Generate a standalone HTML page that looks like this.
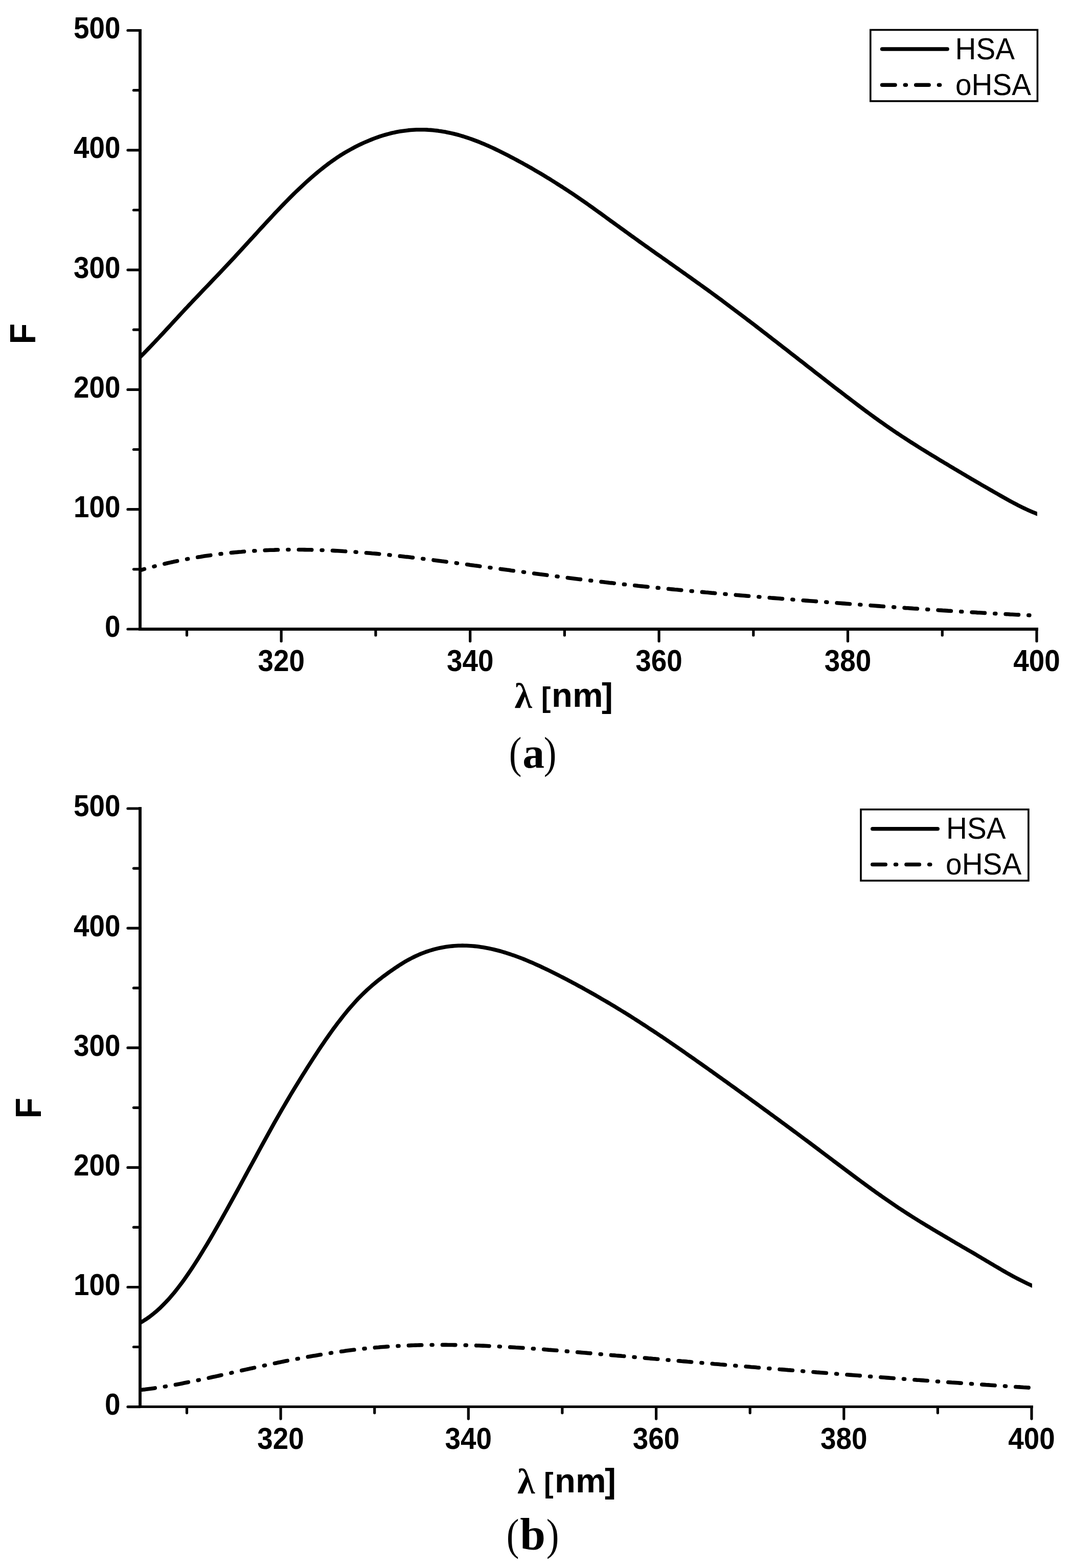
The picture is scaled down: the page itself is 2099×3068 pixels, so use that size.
<!DOCTYPE html>
<html><head><meta charset="utf-8"><title>Fluorescence spectra HSA / oHSA</title>
<style>html,body{margin:0;padding:0;background:#fff;}body{width:2099px;height:3068px;overflow:hidden;}svg{display:block;}.t{font-family:"Liberation Sans",Arial,sans-serif;font-weight:bold;fill:#000;}.r{font-family:"Liberation Sans",Arial,sans-serif;font-weight:normal;fill:#000;}.s{font-family:"Liberation Serif","Times New Roman",serif;fill:#000;}</style></head><body>
<svg width="2099" height="3068" viewBox="0 0 2099 3068">
<rect width="2099" height="3068" fill="#fff"/>
<defs>
<clipPath id="clipa"><rect x="274.0" y="47.0" width="1755.0" height="1184.0"/></clipPath>
<clipPath id="clipb"><rect x="274.0" y="1569.0" width="1745.0" height="1183.6"/></clipPath>
</defs>
<g clip-path="url(#clipa)" fill="none" stroke="#000" stroke-width="7.6" stroke-linejoin="round">
<path d="M270.0,702.6 L274.0,698.7 L278.0,694.7 L282.0,690.7 L286.0,686.6 L290.0,682.5 L294.0,678.4 L298.0,674.2 L302.0,670.0 L306.0,665.7 L310.0,661.5 L314.0,657.2 L318.1,652.9 L322.1,648.5 L326.1,644.2 L330.1,639.9 L334.1,635.5 L338.1,631.2 L342.1,626.8 L346.1,622.5 L350.1,618.2 L354.1,613.8 L358.1,609.5 L362.1,605.2 L366.1,601.0 L370.1,596.7 L374.1,592.5 L378.1,588.2 L382.1,584.0 L386.1,579.8 L390.1,575.6 L394.1,571.4 L398.1,567.2 L402.1,563.0 L406.2,558.8 L410.2,554.6 L414.2,550.4 L418.2,546.2 L422.2,542.0 L426.2,537.8 L430.2,533.6 L434.2,529.4 L438.2,525.1 L442.2,520.9 L446.2,516.6 L450.2,512.4 L454.2,508.1 L458.2,503.8 L462.2,499.4 L466.2,495.1 L470.2,490.7 L474.2,486.4 L478.2,482.0 L482.2,477.6 L486.2,473.2 L490.2,468.9 L494.3,464.5 L498.3,460.1 L502.3,455.7 L506.3,451.3 L510.3,446.9 L514.3,442.6 L518.3,438.2 L522.3,433.9 L526.3,429.6 L530.3,425.3 L534.3,421.0 L538.3,416.7 L542.3,412.5 L546.3,408.3 L550.3,404.1 L554.3,400.0 L558.3,395.9 L562.3,391.8 L566.3,387.8 L570.3,383.8 L574.3,379.8 L578.3,375.9 L582.4,372.0 L586.4,368.2 L590.4,364.4 L594.4,360.7 L598.4,357.0 L602.4,353.4 L606.4,349.9 L610.4,346.3 L614.4,342.9 L618.4,339.5 L622.4,336.1 L626.4,332.9 L630.4,329.7 L634.4,326.5 L638.4,323.4 L642.4,320.4 L646.4,317.5 L650.4,314.6 L654.4,311.8 L658.4,309.0 L662.4,306.4 L666.4,303.8 L670.5,301.3 L674.5,298.8 L678.5,296.5 L682.5,294.2 L686.5,292.0 L690.5,289.8 L694.5,287.7 L698.5,285.7 L702.5,283.7 L706.5,281.8 L710.5,279.9 L714.5,278.1 L718.5,276.4 L722.5,274.7 L726.5,273.1 L730.5,271.5 L734.5,270.0 L738.5,268.6 L742.5,267.2 L746.5,265.9 L750.5,264.7 L754.5,263.5 L758.6,262.4 L762.6,261.3 L766.6,260.3 L770.6,259.4 L774.6,258.6 L778.6,257.8 L782.6,257.1 L786.6,256.4 L790.6,255.9 L794.6,255.4 L798.6,254.9 L802.6,254.5 L806.6,254.2 L810.6,254.0 L814.6,253.8 L818.6,253.7 L822.6,253.7 L826.6,253.7 L830.6,253.8 L834.6,253.9 L838.6,254.2 L842.6,254.4 L846.7,254.8 L850.7,255.2 L854.7,255.6 L858.7,256.2 L862.7,256.7 L866.7,257.4 L870.7,258.1 L874.7,258.9 L878.7,259.7 L882.7,260.6 L886.7,261.5 L890.7,262.5 L894.7,263.5 L898.7,264.7 L902.7,265.8 L906.7,267.0 L910.7,268.3 L914.7,269.6 L918.7,271.0 L922.7,272.4 L926.7,273.9 L930.7,275.4 L934.8,276.9 L938.8,278.5 L942.8,280.2 L946.8,281.8 L950.8,283.6 L954.8,285.3 L958.8,287.1 L962.8,288.9 L966.8,290.8 L970.8,292.7 L974.8,294.6 L978.8,296.6 L982.8,298.6 L986.8,300.6 L990.8,302.6 L994.8,304.7 L998.8,306.8 L1002.8,308.9 L1006.8,311.0 L1010.8,313.2 L1014.8,315.3 L1018.8,317.5 L1022.9,319.7 L1026.9,322.0 L1030.9,324.2 L1034.9,326.5 L1038.9,328.7 L1042.9,331.0 L1046.9,333.4 L1050.9,335.7 L1054.9,338.1 L1058.9,340.4 L1062.9,342.8 L1066.9,345.3 L1070.9,347.7 L1074.9,350.1 L1078.9,352.6 L1082.9,355.1 L1086.9,357.6 L1090.9,360.2 L1094.9,362.7 L1098.9,365.3 L1102.9,367.9 L1106.9,370.5 L1111.0,373.1 L1115.0,375.8 L1119.0,378.4 L1123.0,381.1 L1127.0,383.8 L1131.0,386.6 L1135.0,389.3 L1139.0,392.1 L1143.0,394.9 L1147.0,397.7 L1151.0,400.5 L1155.0,403.4 L1159.0,406.2 L1163.0,409.1 L1167.0,412.0 L1171.0,414.8 L1175.0,417.7 L1179.0,420.6 L1183.0,423.5 L1187.0,426.5 L1191.0,429.4 L1195.0,432.3 L1199.0,435.2 L1203.1,438.1 L1207.1,441.0 L1211.1,443.9 L1215.1,446.8 L1219.1,449.7 L1223.1,452.6 L1227.1,455.5 L1231.1,458.4 L1235.1,461.3 L1239.1,464.2 L1243.1,467.0 L1247.1,469.9 L1251.1,472.8 L1255.1,475.6 L1259.1,478.5 L1263.1,481.4 L1267.1,484.2 L1271.1,487.0 L1275.1,489.9 L1279.1,492.7 L1283.1,495.6 L1287.1,498.4 L1291.2,501.2 L1295.2,504.0 L1299.2,506.9 L1303.2,509.7 L1307.2,512.5 L1311.2,515.4 L1315.2,518.2 L1319.2,521.0 L1323.2,523.8 L1327.2,526.7 L1331.2,529.5 L1335.2,532.3 L1339.2,535.2 L1343.2,538.0 L1347.2,540.9 L1351.2,543.7 L1355.2,546.6 L1359.2,549.4 L1363.2,552.3 L1367.2,555.2 L1371.2,558.0 L1375.2,560.9 L1379.3,563.8 L1383.3,566.7 L1387.3,569.6 L1391.3,572.5 L1395.3,575.5 L1399.3,578.4 L1403.3,581.3 L1407.3,584.3 L1411.3,587.2 L1415.3,590.2 L1419.3,593.2 L1423.3,596.2 L1427.3,599.2 L1431.3,602.2 L1435.3,605.2 L1439.3,608.2 L1443.3,611.2 L1447.3,614.2 L1451.3,617.3 L1455.3,620.3 L1459.3,623.3 L1463.3,626.4 L1467.4,629.4 L1471.4,632.5 L1475.4,635.6 L1479.4,638.6 L1483.4,641.7 L1487.4,644.8 L1491.4,647.9 L1495.4,651.0 L1499.4,654.1 L1503.4,657.2 L1507.4,660.3 L1511.4,663.4 L1515.4,666.5 L1519.4,669.6 L1523.4,672.7 L1527.4,675.8 L1531.4,678.9 L1535.4,682.0 L1539.4,685.1 L1543.4,688.3 L1547.4,691.4 L1551.4,694.5 L1555.5,697.6 L1559.5,700.8 L1563.5,703.9 L1567.5,707.0 L1571.5,710.1 L1575.5,713.3 L1579.5,716.4 L1583.5,719.5 L1587.5,722.6 L1591.5,725.8 L1595.5,728.9 L1599.5,732.0 L1603.5,735.1 L1607.5,738.2 L1611.5,741.3 L1615.5,744.5 L1619.5,747.6 L1623.5,750.7 L1627.5,753.8 L1631.5,756.9 L1635.5,760.0 L1639.5,763.1 L1643.6,766.1 L1647.6,769.2 L1651.6,772.3 L1655.6,775.4 L1659.6,778.4 L1663.6,781.5 L1667.6,784.5 L1671.6,787.6 L1675.6,790.6 L1679.6,793.6 L1683.6,796.6 L1687.6,799.6 L1691.6,802.6 L1695.6,805.6 L1699.6,808.5 L1703.6,811.5 L1707.6,814.4 L1711.6,817.3 L1715.6,820.2 L1719.6,823.1 L1723.6,825.9 L1727.6,828.7 L1731.7,831.6 L1735.7,834.3 L1739.7,837.1 L1743.7,839.9 L1747.7,842.6 L1751.7,845.3 L1755.7,848.0 L1759.7,850.6 L1763.7,853.3 L1767.7,855.9 L1771.7,858.5 L1775.7,861.1 L1779.7,863.7 L1783.7,866.3 L1787.7,868.8 L1791.7,871.3 L1795.7,873.9 L1799.7,876.4 L1803.7,878.9 L1807.7,881.3 L1811.7,883.8 L1815.7,886.3 L1819.8,888.7 L1823.8,891.2 L1827.8,893.6 L1831.8,896.0 L1835.8,898.5 L1839.8,900.9 L1843.8,903.3 L1847.8,905.7 L1851.8,908.1 L1855.8,910.5 L1859.8,912.9 L1863.8,915.3 L1867.8,917.7 L1871.8,920.1 L1875.8,922.5 L1879.8,924.8 L1883.8,927.2 L1887.8,929.6 L1891.8,932.0 L1895.8,934.3 L1899.8,936.7 L1903.8,939.0 L1907.9,941.4 L1911.9,943.7 L1915.9,946.0 L1919.9,948.4 L1923.9,950.7 L1927.9,953.0 L1931.9,955.3 L1935.9,957.6 L1939.9,959.9 L1943.9,962.2 L1947.9,964.5 L1951.9,966.8 L1955.9,969.1 L1959.9,971.4 L1963.9,973.6 L1967.9,975.9 L1971.9,978.1 L1975.9,980.3 L1979.9,982.5 L1983.9,984.6 L1987.9,986.7 L1991.9,988.8 L1996.0,990.8 L2000.0,992.8 L2004.0,994.7 L2008.0,996.6 L2012.0,998.5 L2016.0,1000.2 L2020.0,1001.9 L2024.0,1003.6 L2028.0,1005.2 L2032.0,1006.7 L2036.0,1008.1 L2040.0,1009.5"/>
<path d="M268.0,1117.6 L272.0,1116.4 L276.0,1115.3 L280.0,1114.1 L284.0,1113.0 L288.0,1111.9 L292.0,1110.8 L296.0,1109.7 L300.0,1108.6 L304.0,1107.6 L308.0,1106.6 L312.0,1105.6 L316.0,1104.6 L320.0,1103.6 L324.0,1102.7 L328.0,1101.8 L332.0,1100.9 L336.0,1100.0 L340.0,1099.1 L344.0,1098.3 L348.0,1097.4 L352.0,1096.6 L356.0,1095.8 L360.0,1095.0 L364.0,1094.2 L368.0,1093.5 L372.0,1092.8 L376.0,1092.0 L380.0,1091.3 L384.0,1090.7 L388.0,1090.0 L392.0,1089.4 L396.0,1088.7 L400.0,1088.1 L404.0,1087.5 L408.0,1086.9 L412.0,1086.4 L416.0,1085.8 L420.0,1085.3 L424.0,1084.7 L428.0,1084.2 L432.0,1083.7 L436.0,1083.3 L440.0,1082.8 L444.0,1082.4 L448.0,1081.9 L452.0,1081.5 L456.0,1081.1 L460.0,1080.7 L464.0,1080.4 L468.0,1080.0 L472.0,1079.7 L476.0,1079.3 L480.0,1079.0 L484.0,1078.7 L488.0,1078.4 L492.0,1078.2 L496.0,1077.9 L500.0,1077.7 L504.0,1077.4 L508.0,1077.2 L512.0,1077.0 L516.0,1076.8 L520.0,1076.6 L524.0,1076.5 L528.0,1076.3 L532.0,1076.2 L536.0,1076.1 L540.0,1075.9 L544.0,1075.8 L548.0,1075.8 L552.0,1075.7 L556.0,1075.6 L560.0,1075.6 L564.0,1075.5 L568.0,1075.5 L572.0,1075.5 L576.0,1075.5 L580.0,1075.5 L584.0,1075.5 L588.0,1075.5 L592.0,1075.5 L596.0,1075.6 L600.0,1075.7 L604.0,1075.7 L608.0,1075.8 L612.0,1075.9 L616.0,1076.0 L620.0,1076.1 L624.0,1076.2 L628.0,1076.4 L632.0,1076.5 L636.0,1076.7 L640.0,1076.8 L644.0,1077.0 L648.0,1077.2 L652.0,1077.4 L656.0,1077.6 L660.0,1077.8 L664.0,1078.0 L668.0,1078.2 L672.0,1078.5 L676.0,1078.7 L680.0,1079.0 L684.0,1079.2 L688.0,1079.5 L692.0,1079.8 L696.0,1080.1 L700.0,1080.4 L704.0,1080.7 L708.0,1081.0 L712.0,1081.3 L716.0,1081.7 L720.0,1082.0 L724.0,1082.3 L728.0,1082.7 L732.0,1083.0 L736.0,1083.4 L740.0,1083.8 L744.0,1084.2 L748.0,1084.5 L752.0,1084.9 L756.0,1085.3 L760.0,1085.7 L764.0,1086.2 L768.0,1086.6 L772.0,1087.0 L776.0,1087.4 L780.0,1087.9 L784.0,1088.3 L788.0,1088.7 L792.0,1089.2 L796.0,1089.6 L800.0,1090.1 L804.0,1090.6 L808.0,1091.0 L812.0,1091.5 L816.0,1092.0 L820.0,1092.5 L824.0,1092.9 L828.0,1093.4 L832.0,1093.9 L836.0,1094.4 L840.0,1094.9 L844.0,1095.4 L848.0,1095.9 L852.0,1096.4 L856.0,1096.9 L860.0,1097.4 L864.0,1098.0 L868.0,1098.5 L872.0,1099.0 L876.0,1099.5 L880.0,1100.1 L884.0,1100.6 L888.0,1101.1 L892.0,1101.6 L896.0,1102.2 L900.0,1102.7 L904.0,1103.2 L908.0,1103.8 L912.0,1104.3 L916.0,1104.8 L920.0,1105.4 L924.0,1105.9 L928.0,1106.5 L932.0,1107.0 L936.0,1107.5 L940.0,1108.1 L944.0,1108.6 L948.0,1109.2 L952.0,1109.7 L956.0,1110.2 L960.0,1110.8 L964.0,1111.3 L968.0,1111.9 L972.0,1112.4 L976.0,1112.9 L980.0,1113.5 L984.0,1114.0 L988.0,1114.5 L992.0,1115.1 L996.0,1115.6 L1000.0,1116.2 L1004.0,1116.7 L1008.0,1117.2 L1012.0,1117.8 L1016.0,1118.3 L1020.0,1118.8 L1024.0,1119.3 L1028.0,1119.9 L1032.0,1120.4 L1036.0,1120.9 L1040.0,1121.5 L1044.0,1122.0 L1048.0,1122.5 L1052.0,1123.0 L1056.0,1123.6 L1060.0,1124.1 L1064.0,1124.6 L1068.0,1125.1 L1072.0,1125.6 L1076.0,1126.1 L1080.0,1126.7 L1084.0,1127.2 L1088.0,1127.7 L1092.0,1128.2 L1096.0,1128.7 L1100.0,1129.2 L1104.0,1129.7 L1108.0,1130.2 L1112.0,1130.7 L1116.0,1131.2 L1120.0,1131.7 L1124.0,1132.2 L1128.0,1132.7 L1132.0,1133.2 L1136.0,1133.7 L1140.0,1134.1 L1144.0,1134.6 L1148.0,1135.1 L1152.0,1135.6 L1156.0,1136.0 L1160.0,1136.5 L1164.0,1137.0 L1168.0,1137.5 L1172.0,1137.9 L1176.0,1138.4 L1180.0,1138.8 L1184.0,1139.3 L1188.0,1139.7 L1192.0,1140.2 L1196.0,1140.6 L1200.0,1141.1 L1204.0,1141.5 L1208.0,1142.0 L1212.0,1142.4 L1216.0,1142.9 L1220.0,1143.3 L1224.0,1143.7 L1228.0,1144.1 L1232.0,1144.6 L1236.0,1145.0 L1240.0,1145.4 L1244.0,1145.8 L1248.0,1146.3 L1252.0,1146.7 L1256.0,1147.1 L1260.0,1147.5 L1264.0,1147.9 L1268.0,1148.3 L1272.0,1148.7 L1276.0,1149.1 L1280.0,1149.5 L1284.0,1149.9 L1288.0,1150.3 L1292.0,1150.7 L1296.0,1151.1 L1300.0,1151.5 L1304.0,1151.9 L1308.0,1152.3 L1312.0,1152.7 L1316.0,1153.1 L1320.0,1153.5 L1324.0,1153.8 L1328.0,1154.2 L1332.0,1154.6 L1336.0,1155.0 L1340.0,1155.3 L1344.0,1155.7 L1348.0,1156.1 L1352.0,1156.5 L1356.0,1156.8 L1360.0,1157.2 L1364.0,1157.5 L1368.0,1157.9 L1372.0,1158.3 L1376.0,1158.6 L1380.0,1159.0 L1384.0,1159.3 L1388.0,1159.7 L1392.0,1160.1 L1396.0,1160.4 L1400.0,1160.8 L1404.0,1161.1 L1408.0,1161.5 L1412.0,1161.8 L1416.0,1162.1 L1420.0,1162.5 L1424.0,1162.8 L1428.0,1163.2 L1432.0,1163.5 L1436.0,1163.9 L1440.0,1164.2 L1444.0,1164.5 L1448.0,1164.9 L1452.0,1165.2 L1456.0,1165.5 L1460.0,1165.9 L1464.0,1166.2 L1468.0,1166.5 L1472.0,1166.9 L1476.0,1167.2 L1480.0,1167.5 L1484.0,1167.8 L1488.0,1168.2 L1492.0,1168.5 L1496.0,1168.8 L1500.0,1169.1 L1504.0,1169.4 L1508.0,1169.8 L1512.0,1170.1 L1516.0,1170.4 L1520.0,1170.7 L1524.0,1171.0 L1528.0,1171.4 L1532.0,1171.7 L1536.0,1172.0 L1540.0,1172.3 L1544.0,1172.6 L1548.0,1172.9 L1552.0,1173.2 L1556.0,1173.5 L1560.0,1173.9 L1564.0,1174.2 L1568.0,1174.5 L1572.0,1174.8 L1576.0,1175.1 L1580.0,1175.4 L1584.0,1175.7 L1588.0,1176.0 L1592.0,1176.3 L1596.0,1176.6 L1600.0,1176.9 L1604.0,1177.2 L1608.0,1177.5 L1612.0,1177.8 L1616.0,1178.1 L1620.0,1178.5 L1624.0,1178.8 L1628.0,1179.1 L1632.0,1179.4 L1636.0,1179.7 L1640.0,1180.0 L1644.0,1180.3 L1648.0,1180.6 L1652.0,1180.9 L1656.0,1181.2 L1660.0,1181.5 L1664.0,1181.8 L1668.0,1182.1 L1672.0,1182.4 L1676.0,1182.7 L1680.0,1182.9 L1684.0,1183.2 L1688.0,1183.5 L1692.0,1183.8 L1696.0,1184.1 L1700.0,1184.4 L1704.0,1184.7 L1708.0,1185.0 L1712.0,1185.3 L1716.0,1185.6 L1720.0,1185.9 L1724.0,1186.2 L1728.0,1186.5 L1732.0,1186.7 L1736.0,1187.0 L1740.0,1187.3 L1744.0,1187.6 L1748.0,1187.9 L1752.0,1188.2 L1756.0,1188.5 L1760.0,1188.7 L1764.0,1189.0 L1768.0,1189.3 L1772.0,1189.6 L1776.0,1189.8 L1780.0,1190.1 L1784.0,1190.4 L1788.0,1190.7 L1792.0,1190.9 L1796.0,1191.2 L1800.0,1191.5 L1804.0,1191.8 L1808.0,1192.0 L1812.0,1192.3 L1816.0,1192.6 L1820.0,1192.8 L1824.0,1193.1 L1828.0,1193.4 L1832.0,1193.6 L1836.0,1193.9 L1840.0,1194.1 L1844.0,1194.4 L1848.0,1194.6 L1852.0,1194.9 L1856.0,1195.2 L1860.0,1195.4 L1864.0,1195.7 L1868.0,1195.9 L1872.0,1196.2 L1876.0,1196.4 L1880.0,1196.7 L1884.0,1196.9 L1888.0,1197.1 L1892.0,1197.4 L1896.0,1197.6 L1900.0,1197.9 L1904.0,1198.1 L1908.0,1198.3 L1912.0,1198.6 L1916.0,1198.8 L1920.0,1199.0 L1924.0,1199.2 L1928.0,1199.5 L1932.0,1199.7 L1936.0,1199.9 L1940.0,1200.1 L1944.0,1200.4 L1948.0,1200.6 L1952.0,1200.8 L1956.0,1201.0 L1960.0,1201.2 L1964.0,1201.4 L1968.0,1201.6 L1972.0,1201.8 L1976.0,1202.1 L1980.0,1202.3 L1984.0,1202.5 L1988.0,1202.7 L1992.0,1202.9 L1996.0,1203.0 L2000.0,1203.2 L2004.0,1203.4 L2008.0,1203.6 L2012.0,1203.8 L2016.0,1204.0 L2020.0,1204.2 L2024.0,1204.4 L2028.0,1204.5 L2032.0,1204.7 L2036.0,1204.9 L2040.0,1205.1" stroke-dasharray="25.4 19.375 2 19.375" stroke-dashoffset="10.4" stroke-linecap="round"/>
</g>
<g stroke="#000" fill="none" stroke-linecap="square">
<path d="M274.0,57.0 V1234.1" stroke-width="5.9" stroke-linecap="butt"/>
<path d="M271.1,1231.0 H2031.0" stroke-width="6.2" stroke-linecap="butt"/>
</g>
<g stroke="#000" stroke-width="5.2" stroke-linecap="round">
<line x1="250.0" y1="1231.0" x2="274.0" y2="1231.0"/>
<line x1="261.5" y1="1113.8" x2="274.0" y2="1113.8"/>
<line x1="250.0" y1="996.7" x2="274.0" y2="996.7"/>
<line x1="261.5" y1="879.5" x2="274.0" y2="879.5"/>
<line x1="250.0" y1="762.4" x2="274.0" y2="762.4"/>
<line x1="261.5" y1="645.2" x2="274.0" y2="645.2"/>
<line x1="250.0" y1="528.1" x2="274.0" y2="528.1"/>
<line x1="261.5" y1="411.0" x2="274.0" y2="411.0"/>
<line x1="250.0" y1="293.8" x2="274.0" y2="293.8"/>
<line x1="261.5" y1="176.7" x2="274.0" y2="176.7"/>
<line x1="250.0" y1="59.5" x2="274.0" y2="59.5"/>
<line x1="365.5" y1="1231.0" x2="365.5" y2="1243.0"/>
<line x1="550.2" y1="1231.0" x2="550.2" y2="1254.5"/>
<line x1="734.9" y1="1231.0" x2="734.9" y2="1243.0"/>
<line x1="919.7" y1="1231.0" x2="919.7" y2="1254.5"/>
<line x1="1104.4" y1="1231.0" x2="1104.4" y2="1243.0"/>
<line x1="1289.1" y1="1231.0" x2="1289.1" y2="1254.5"/>
<line x1="1473.8" y1="1231.0" x2="1473.8" y2="1243.0"/>
<line x1="1658.5" y1="1231.0" x2="1658.5" y2="1254.5"/>
<line x1="1843.3" y1="1231.0" x2="1843.3" y2="1243.0"/>
<line x1="2028.0" y1="1231.0" x2="2028.0" y2="1254.5"/>
</g>
<text class="t" x="0.0" y="1246.5" font-size="59" text-anchor="end" transform="translate(235.5,0) scale(0.93,1)">0</text>
<text class="t" x="0.0" y="1012.2" font-size="59" text-anchor="end" transform="translate(235.5,0) scale(0.93,1)">100</text>
<text class="t" x="0.0" y="777.9" font-size="59" text-anchor="end" transform="translate(235.5,0) scale(0.93,1)">200</text>
<text class="t" x="0.0" y="543.6" font-size="59" text-anchor="end" transform="translate(235.5,0) scale(0.93,1)">300</text>
<text class="t" x="0.0" y="309.3" font-size="59" text-anchor="end" transform="translate(235.5,0) scale(0.93,1)">400</text>
<text class="t" x="0.0" y="75.0" font-size="59" text-anchor="end" transform="translate(235.5,0) scale(0.93,1)">500</text>
<text class="t" x="0" y="1313.0" font-size="59" text-anchor="middle" transform="translate(550.2,0) scale(0.93,1)">320</text>
<text class="t" x="0" y="1313.0" font-size="59" text-anchor="middle" transform="translate(919.7,0) scale(0.93,1)">340</text>
<text class="t" x="0" y="1313.0" font-size="59" text-anchor="middle" transform="translate(1289.1,0) scale(0.93,1)">360</text>
<text class="t" x="0" y="1313.0" font-size="59" text-anchor="middle" transform="translate(1658.5,0) scale(0.93,1)">380</text>
<text class="t" x="0" y="1313.0" font-size="59" text-anchor="middle" transform="translate(2028.0,0) scale(0.93,1)">400</text>
<g clip-path="url(#clipb)" fill="none" stroke="#000" stroke-width="7.6" stroke-linejoin="round">
<path d="M268.0,2591.4 L272.0,2589.4 L276.0,2587.2 L280.0,2584.9 L284.0,2582.3 L288.0,2579.7 L292.0,2576.8 L296.0,2573.8 L300.0,2570.6 L304.0,2567.3 L308.0,2563.8 L312.1,2560.2 L316.1,2556.3 L320.1,2552.3 L324.1,2548.2 L328.1,2543.9 L332.1,2539.4 L336.1,2534.8 L340.1,2530.1 L344.1,2525.1 L348.1,2520.0 L352.1,2514.8 L356.1,2509.4 L360.1,2503.9 L364.1,2498.3 L368.1,2492.5 L372.1,2486.6 L376.1,2480.6 L380.1,2474.5 L384.1,2468.3 L388.1,2461.9 L392.1,2455.5 L396.1,2449.0 L400.1,2442.4 L404.2,2435.7 L408.2,2429.0 L412.2,2422.2 L416.2,2415.3 L420.2,2408.4 L424.2,2401.4 L428.2,2394.4 L432.2,2387.3 L436.2,2380.2 L440.2,2373.0 L444.2,2365.9 L448.2,2358.7 L452.2,2351.4 L456.2,2344.2 L460.2,2336.9 L464.2,2329.6 L468.2,2322.2 L472.2,2314.9 L476.2,2307.5 L480.2,2300.2 L484.2,2292.8 L488.2,2285.4 L492.3,2278.0 L496.3,2270.6 L500.3,2263.3 L504.3,2255.9 L508.3,2248.5 L512.3,2241.2 L516.3,2233.9 L520.3,2226.6 L524.3,2219.3 L528.3,2212.1 L532.3,2204.9 L536.3,2197.7 L540.3,2190.6 L544.3,2183.6 L548.3,2176.6 L552.3,2169.7 L556.3,2162.8 L560.3,2156.0 L564.3,2149.2 L568.3,2142.4 L572.3,2135.8 L576.4,2129.1 L580.4,2122.5 L584.4,2116.0 L588.4,2109.5 L592.4,2103.1 L596.4,2096.7 L600.4,2090.3 L604.4,2084.0 L608.4,2077.7 L612.4,2071.5 L616.4,2065.4 L620.4,2059.2 L624.4,2053.2 L628.4,2047.2 L632.4,2041.3 L636.4,2035.4 L640.4,2029.7 L644.4,2024.0 L648.4,2018.4 L652.4,2012.8 L656.4,2007.4 L660.4,2002.0 L664.5,1996.8 L668.5,1991.6 L672.5,1986.5 L676.5,1981.6 L680.5,1976.7 L684.5,1972.0 L688.5,1967.4 L692.5,1962.9 L696.5,1958.5 L700.5,1954.2 L704.5,1950.1 L708.5,1946.1 L712.5,1942.2 L716.5,1938.4 L720.5,1934.8 L724.5,1931.2 L728.5,1927.7 L732.5,1924.3 L736.5,1921.0 L740.5,1917.8 L744.5,1914.7 L748.5,1911.6 L752.5,1908.6 L756.6,1905.6 L760.6,1902.7 L764.6,1899.9 L768.6,1897.1 L772.6,1894.3 L776.6,1891.7 L780.6,1889.0 L784.6,1886.5 L788.6,1884.0 L792.6,1881.6 L796.6,1879.3 L800.6,1877.1 L804.6,1875.0 L808.6,1873.0 L812.6,1871.0 L816.6,1869.2 L820.6,1867.4 L824.6,1865.8 L828.6,1864.2 L832.6,1862.7 L836.6,1861.3 L840.7,1860.0 L844.7,1858.8 L848.7,1857.6 L852.7,1856.6 L856.7,1855.6 L860.7,1854.7 L864.7,1853.9 L868.7,1853.2 L872.7,1852.5 L876.7,1852.0 L880.7,1851.5 L884.7,1851.1 L888.7,1850.7 L892.7,1850.5 L896.7,1850.3 L900.7,1850.2 L904.7,1850.1 L908.7,1850.2 L912.7,1850.3 L916.7,1850.5 L920.7,1850.7 L924.7,1851.0 L928.8,1851.4 L932.8,1851.8 L936.8,1852.3 L940.8,1852.9 L944.8,1853.5 L948.8,1854.2 L952.8,1854.9 L956.8,1855.7 L960.8,1856.6 L964.8,1857.5 L968.8,1858.5 L972.8,1859.5 L976.8,1860.5 L980.8,1861.7 L984.8,1862.8 L988.8,1864.0 L992.8,1865.3 L996.8,1866.6 L1000.8,1868.0 L1004.8,1869.3 L1008.8,1870.8 L1012.8,1872.3 L1016.9,1873.8 L1020.9,1875.3 L1024.9,1876.9 L1028.9,1878.5 L1032.9,1880.2 L1036.9,1881.9 L1040.9,1883.6 L1044.9,1885.4 L1048.9,1887.2 L1052.9,1889.0 L1056.9,1890.8 L1060.9,1892.7 L1064.9,1894.6 L1068.9,1896.5 L1072.9,1898.4 L1076.9,1900.4 L1080.9,1902.4 L1084.9,1904.4 L1088.9,1906.4 L1092.9,1908.4 L1096.9,1910.5 L1100.9,1912.5 L1105.0,1914.6 L1109.0,1916.7 L1113.0,1918.8 L1117.0,1920.9 L1121.0,1923.1 L1125.0,1925.2 L1129.0,1927.4 L1133.0,1929.6 L1137.0,1931.7 L1141.0,1933.9 L1145.0,1936.2 L1149.0,1938.4 L1153.0,1940.6 L1157.0,1942.9 L1161.0,1945.1 L1165.0,1947.4 L1169.0,1949.7 L1173.0,1952.0 L1177.0,1954.4 L1181.0,1956.7 L1185.0,1959.1 L1189.0,1961.4 L1193.1,1963.8 L1197.1,1966.2 L1201.1,1968.6 L1205.1,1971.0 L1209.1,1973.4 L1213.1,1975.9 L1217.1,1978.4 L1221.1,1980.8 L1225.1,1983.3 L1229.1,1985.8 L1233.1,1988.3 L1237.1,1990.9 L1241.1,1993.4 L1245.1,1996.0 L1249.1,1998.5 L1253.1,2001.1 L1257.1,2003.7 L1261.1,2006.3 L1265.1,2008.9 L1269.1,2011.6 L1273.1,2014.2 L1277.1,2016.8 L1281.2,2019.5 L1285.2,2022.2 L1289.2,2024.9 L1293.2,2027.5 L1297.2,2030.2 L1301.2,2032.9 L1305.2,2035.7 L1309.2,2038.4 L1313.2,2041.1 L1317.2,2043.9 L1321.2,2046.6 L1325.2,2049.4 L1329.2,2052.1 L1333.2,2054.9 L1337.2,2057.7 L1341.2,2060.5 L1345.2,2063.3 L1349.2,2066.1 L1353.2,2068.9 L1357.2,2071.7 L1361.2,2074.5 L1365.2,2077.3 L1369.2,2080.2 L1373.3,2083.0 L1377.3,2085.8 L1381.3,2088.7 L1385.3,2091.5 L1389.3,2094.4 L1393.3,2097.2 L1397.3,2100.1 L1401.3,2102.9 L1405.3,2105.8 L1409.3,2108.6 L1413.3,2111.5 L1417.3,2114.4 L1421.3,2117.2 L1425.3,2120.1 L1429.3,2123.0 L1433.3,2125.9 L1437.3,2128.7 L1441.3,2131.6 L1445.3,2134.5 L1449.3,2137.4 L1453.3,2140.3 L1457.4,2143.2 L1461.4,2146.1 L1465.4,2149.0 L1469.4,2151.9 L1473.4,2154.8 L1477.4,2157.7 L1481.4,2160.6 L1485.4,2163.5 L1489.4,2166.5 L1493.4,2169.4 L1497.4,2172.3 L1501.4,2175.2 L1505.4,2178.2 L1509.4,2181.1 L1513.4,2184.0 L1517.4,2187.0 L1521.4,2189.9 L1525.4,2192.9 L1529.4,2195.8 L1533.4,2198.8 L1537.4,2201.7 L1541.4,2204.7 L1545.5,2207.6 L1549.5,2210.6 L1553.5,2213.6 L1557.5,2216.5 L1561.5,2219.5 L1565.5,2222.5 L1569.5,2225.5 L1573.5,2228.5 L1577.5,2231.4 L1581.5,2234.4 L1585.5,2237.4 L1589.5,2240.4 L1593.5,2243.4 L1597.5,2246.4 L1601.5,2249.4 L1605.5,2252.5 L1609.5,2255.5 L1613.5,2258.5 L1617.5,2261.5 L1621.5,2264.5 L1625.5,2267.5 L1629.5,2270.6 L1633.6,2273.6 L1637.6,2276.6 L1641.6,2279.6 L1645.6,2282.6 L1649.6,2285.6 L1653.6,2288.6 L1657.6,2291.6 L1661.6,2294.6 L1665.6,2297.6 L1669.6,2300.6 L1673.6,2303.6 L1677.6,2306.6 L1681.6,2309.5 L1685.6,2312.5 L1689.6,2315.4 L1693.6,2318.3 L1697.6,2321.3 L1701.6,2324.2 L1705.6,2327.1 L1709.6,2329.9 L1713.6,2332.8 L1717.6,2335.7 L1721.7,2338.5 L1725.7,2341.3 L1729.7,2344.1 L1733.7,2346.9 L1737.7,2349.7 L1741.7,2352.4 L1745.7,2355.2 L1749.7,2357.9 L1753.7,2360.6 L1757.7,2363.3 L1761.7,2365.9 L1765.7,2368.5 L1769.7,2371.1 L1773.7,2373.7 L1777.7,2376.3 L1781.7,2378.9 L1785.7,2381.4 L1789.7,2383.9 L1793.7,2386.4 L1797.7,2388.9 L1801.7,2391.4 L1805.7,2393.8 L1809.8,2396.3 L1813.8,2398.7 L1817.8,2401.1 L1821.8,2403.5 L1825.8,2405.9 L1829.8,2408.3 L1833.8,2410.7 L1837.8,2413.1 L1841.8,2415.4 L1845.8,2417.8 L1849.8,2420.1 L1853.8,2422.5 L1857.8,2424.8 L1861.8,2427.2 L1865.8,2429.5 L1869.8,2431.9 L1873.8,2434.2 L1877.8,2436.5 L1881.8,2438.9 L1885.8,2441.2 L1889.8,2443.5 L1893.8,2445.9 L1897.9,2448.2 L1901.9,2450.6 L1905.9,2452.9 L1909.9,2455.3 L1913.9,2457.7 L1917.9,2460.0 L1921.9,2462.4 L1925.9,2464.8 L1929.9,2467.2 L1933.9,2469.6 L1937.9,2472.0 L1941.9,2474.3 L1945.9,2476.7 L1949.9,2479.1 L1953.9,2481.4 L1957.9,2483.8 L1961.9,2486.1 L1965.9,2488.4 L1969.9,2490.7 L1973.9,2492.9 L1977.9,2495.1 L1981.9,2497.3 L1986.0,2499.5 L1990.0,2501.6 L1994.0,2503.7 L1998.0,2505.7 L2002.0,2507.7 L2006.0,2509.6 L2010.0,2511.6 L2014.0,2513.4 L2018.0,2515.2 L2022.0,2516.9 L2026.0,2518.6 L2030.0,2520.2"/>
<path d="M268.0,2720.4 L272.0,2720.0 L276.0,2719.5 L280.0,2719.0 L284.0,2718.6 L288.0,2718.0 L292.0,2717.5 L296.0,2717.0 L300.0,2716.4 L304.0,2715.8 L308.0,2715.2 L312.1,2714.6 L316.1,2714.0 L320.1,2713.3 L324.1,2712.7 L328.1,2712.0 L332.1,2711.3 L336.1,2710.6 L340.1,2709.9 L344.1,2709.2 L348.1,2708.4 L352.1,2707.7 L356.1,2706.9 L360.1,2706.1 L364.1,2705.3 L368.1,2704.5 L372.1,2703.7 L376.1,2702.9 L380.1,2702.1 L384.1,2701.3 L388.1,2700.4 L392.1,2699.6 L396.1,2698.7 L400.1,2697.8 L404.2,2697.0 L408.2,2696.1 L412.2,2695.2 L416.2,2694.3 L420.2,2693.5 L424.2,2692.6 L428.2,2691.7 L432.2,2690.8 L436.2,2689.9 L440.2,2689.0 L444.2,2688.1 L448.2,2687.2 L452.2,2686.3 L456.2,2685.3 L460.2,2684.4 L464.2,2683.5 L468.2,2682.6 L472.2,2681.7 L476.2,2680.8 L480.2,2679.9 L484.2,2679.0 L488.2,2678.1 L492.3,2677.3 L496.3,2676.4 L500.3,2675.5 L504.3,2674.6 L508.3,2673.7 L512.3,2672.9 L516.3,2672.0 L520.3,2671.1 L524.3,2670.3 L528.3,2669.4 L532.3,2668.6 L536.3,2667.7 L540.3,2666.9 L544.3,2666.1 L548.3,2665.3 L552.3,2664.4 L556.3,2663.6 L560.3,2662.8 L564.3,2662.0 L568.3,2661.2 L572.3,2660.5 L576.4,2659.7 L580.4,2658.9 L584.4,2658.2 L588.4,2657.4 L592.4,2656.7 L596.4,2655.9 L600.4,2655.2 L604.4,2654.5 L608.4,2653.8 L612.4,2653.1 L616.4,2652.4 L620.4,2651.7 L624.4,2651.0 L628.4,2650.3 L632.4,2649.7 L636.4,2649.0 L640.4,2648.4 L644.4,2647.8 L648.4,2647.1 L652.4,2646.5 L656.4,2645.9 L660.4,2645.3 L664.5,2644.8 L668.5,2644.2 L672.5,2643.7 L676.5,2643.1 L680.5,2642.6 L684.5,2642.1 L688.5,2641.6 L692.5,2641.1 L696.5,2640.6 L700.5,2640.1 L704.5,2639.7 L708.5,2639.2 L712.5,2638.8 L716.5,2638.4 L720.5,2638.0 L724.5,2637.6 L728.5,2637.2 L732.5,2636.9 L736.5,2636.5 L740.5,2636.2 L744.5,2635.8 L748.5,2635.5 L752.5,2635.2 L756.6,2634.9 L760.6,2634.7 L764.6,2634.4 L768.6,2634.2 L772.6,2633.9 L776.6,2633.7 L780.6,2633.5 L784.6,2633.3 L788.6,2633.1 L792.6,2632.9 L796.6,2632.7 L800.6,2632.6 L804.6,2632.4 L808.6,2632.3 L812.6,2632.1 L816.6,2632.0 L820.6,2631.9 L824.6,2631.8 L828.6,2631.7 L832.6,2631.7 L836.6,2631.6 L840.7,2631.5 L844.7,2631.5 L848.7,2631.5 L852.7,2631.4 L856.7,2631.4 L860.7,2631.4 L864.7,2631.4 L868.7,2631.4 L872.7,2631.4 L876.7,2631.5 L880.7,2631.5 L884.7,2631.5 L888.7,2631.6 L892.7,2631.7 L896.7,2631.7 L900.7,2631.8 L904.7,2631.9 L908.7,2632.0 L912.7,2632.1 L916.7,2632.2 L920.7,2632.3 L924.7,2632.4 L928.8,2632.6 L932.8,2632.7 L936.8,2632.8 L940.8,2633.0 L944.8,2633.1 L948.8,2633.3 L952.8,2633.5 L956.8,2633.7 L960.8,2633.8 L964.8,2634.0 L968.8,2634.2 L972.8,2634.4 L976.8,2634.6 L980.8,2634.8 L984.8,2635.1 L988.8,2635.3 L992.8,2635.5 L996.8,2635.8 L1000.8,2636.0 L1004.8,2636.2 L1008.8,2636.5 L1012.8,2636.7 L1016.9,2637.0 L1020.9,2637.3 L1024.9,2637.5 L1028.9,2637.8 L1032.9,2638.1 L1036.9,2638.4 L1040.9,2638.6 L1044.9,2638.9 L1048.9,2639.2 L1052.9,2639.5 L1056.9,2639.8 L1060.9,2640.1 L1064.9,2640.4 L1068.9,2640.7 L1072.9,2641.1 L1076.9,2641.4 L1080.9,2641.7 L1084.9,2642.0 L1088.9,2642.3 L1092.9,2642.7 L1096.9,2643.0 L1100.9,2643.3 L1105.0,2643.6 L1109.0,2644.0 L1113.0,2644.3 L1117.0,2644.6 L1121.0,2645.0 L1125.0,2645.3 L1129.0,2645.7 L1133.0,2646.0 L1137.0,2646.4 L1141.0,2646.7 L1145.0,2647.0 L1149.0,2647.4 L1153.0,2647.7 L1157.0,2648.1 L1161.0,2648.4 L1165.0,2648.8 L1169.0,2649.1 L1173.0,2649.5 L1177.0,2649.8 L1181.0,2650.2 L1185.0,2650.5 L1189.0,2650.9 L1193.1,2651.2 L1197.1,2651.6 L1201.1,2651.9 L1205.1,2652.3 L1209.1,2652.6 L1213.1,2652.9 L1217.1,2653.3 L1221.1,2653.6 L1225.1,2654.0 L1229.1,2654.3 L1233.1,2654.7 L1237.1,2655.0 L1241.1,2655.4 L1245.1,2655.7 L1249.1,2656.1 L1253.1,2656.4 L1257.1,2656.8 L1261.1,2657.1 L1265.1,2657.4 L1269.1,2657.8 L1273.1,2658.1 L1277.1,2658.5 L1281.2,2658.8 L1285.2,2659.2 L1289.2,2659.5 L1293.2,2659.8 L1297.2,2660.2 L1301.2,2660.5 L1305.2,2660.9 L1309.2,2661.2 L1313.2,2661.6 L1317.2,2661.9 L1321.2,2662.2 L1325.2,2662.6 L1329.2,2662.9 L1333.2,2663.3 L1337.2,2663.6 L1341.2,2663.9 L1345.2,2664.3 L1349.2,2664.6 L1353.2,2665.0 L1357.2,2665.3 L1361.2,2665.6 L1365.2,2666.0 L1369.2,2666.3 L1373.3,2666.7 L1377.3,2667.0 L1381.3,2667.3 L1385.3,2667.7 L1389.3,2668.0 L1393.3,2668.3 L1397.3,2668.7 L1401.3,2669.0 L1405.3,2669.3 L1409.3,2669.7 L1413.3,2670.0 L1417.3,2670.4 L1421.3,2670.7 L1425.3,2671.0 L1429.3,2671.4 L1433.3,2671.7 L1437.3,2672.0 L1441.3,2672.4 L1445.3,2672.7 L1449.3,2673.0 L1453.3,2673.4 L1457.4,2673.7 L1461.4,2674.0 L1465.4,2674.3 L1469.4,2674.7 L1473.4,2675.0 L1477.4,2675.3 L1481.4,2675.7 L1485.4,2676.0 L1489.4,2676.3 L1493.4,2676.7 L1497.4,2677.0 L1501.4,2677.3 L1505.4,2677.6 L1509.4,2678.0 L1513.4,2678.3 L1517.4,2678.6 L1521.4,2678.9 L1525.4,2679.3 L1529.4,2679.6 L1533.4,2679.9 L1537.4,2680.2 L1541.4,2680.6 L1545.5,2680.9 L1549.5,2681.2 L1553.5,2681.5 L1557.5,2681.9 L1561.5,2682.2 L1565.5,2682.5 L1569.5,2682.8 L1573.5,2683.1 L1577.5,2683.5 L1581.5,2683.8 L1585.5,2684.1 L1589.5,2684.4 L1593.5,2684.7 L1597.5,2685.1 L1601.5,2685.4 L1605.5,2685.7 L1609.5,2686.0 L1613.5,2686.3 L1617.5,2686.6 L1621.5,2687.0 L1625.5,2687.3 L1629.5,2687.6 L1633.6,2687.9 L1637.6,2688.2 L1641.6,2688.5 L1645.6,2688.8 L1649.6,2689.2 L1653.6,2689.5 L1657.6,2689.8 L1661.6,2690.1 L1665.6,2690.4 L1669.6,2690.7 L1673.6,2691.0 L1677.6,2691.3 L1681.6,2691.6 L1685.6,2691.9 L1689.6,2692.2 L1693.6,2692.6 L1697.6,2692.9 L1701.6,2693.2 L1705.6,2693.5 L1709.6,2693.8 L1713.6,2694.1 L1717.6,2694.4 L1721.7,2694.7 L1725.7,2695.0 L1729.7,2695.3 L1733.7,2695.6 L1737.7,2695.9 L1741.7,2696.2 L1745.7,2696.5 L1749.7,2696.8 L1753.7,2697.1 L1757.7,2697.4 L1761.7,2697.7 L1765.7,2698.0 L1769.7,2698.3 L1773.7,2698.6 L1777.7,2698.9 L1781.7,2699.2 L1785.7,2699.5 L1789.7,2699.8 L1793.7,2700.1 L1797.7,2700.3 L1801.7,2700.6 L1805.7,2700.9 L1809.8,2701.2 L1813.8,2701.5 L1817.8,2701.8 L1821.8,2702.1 L1825.8,2702.4 L1829.8,2702.7 L1833.8,2703.0 L1837.8,2703.2 L1841.8,2703.5 L1845.8,2703.8 L1849.8,2704.1 L1853.8,2704.4 L1857.8,2704.7 L1861.8,2705.0 L1865.8,2705.2 L1869.8,2705.5 L1873.8,2705.8 L1877.8,2706.1 L1881.8,2706.4 L1885.8,2706.6 L1889.8,2706.9 L1893.8,2707.2 L1897.9,2707.5 L1901.9,2707.8 L1905.9,2708.0 L1909.9,2708.3 L1913.9,2708.6 L1917.9,2708.9 L1921.9,2709.1 L1925.9,2709.4 L1929.9,2709.7 L1933.9,2709.9 L1937.9,2710.2 L1941.9,2710.5 L1945.9,2710.8 L1949.9,2711.0 L1953.9,2711.3 L1957.9,2711.6 L1961.9,2711.8 L1965.9,2712.1 L1969.9,2712.4 L1973.9,2712.6 L1977.9,2712.9 L1981.9,2713.1 L1986.0,2713.4 L1990.0,2713.7 L1994.0,2713.9 L1998.0,2714.2 L2002.0,2714.5 L2006.0,2714.7 L2010.0,2715.0 L2014.0,2715.2 L2018.0,2715.5 L2022.0,2715.7 L2026.0,2716.0 L2030.0,2716.3" stroke-dasharray="25.4 19.375 2 19.375" stroke-dashoffset="-10.1" stroke-linecap="round"/>
</g>
<g stroke="#000" fill="none" stroke-linecap="square">
<path d="M274.0,1579.0 V2755.1" stroke-width="5.9" stroke-linecap="butt"/>
<path d="M271.1,2752.6 H2021.0" stroke-width="5.0" stroke-linecap="butt"/>
</g>
<g stroke="#000" stroke-width="5.2" stroke-linecap="round">
<line x1="250.0" y1="2752.6" x2="274.0" y2="2752.6"/>
<line x1="261.5" y1="2635.5" x2="274.0" y2="2635.5"/>
<line x1="250.0" y1="2518.5" x2="274.0" y2="2518.5"/>
<line x1="261.5" y1="2401.4" x2="274.0" y2="2401.4"/>
<line x1="250.0" y1="2284.4" x2="274.0" y2="2284.4"/>
<line x1="261.5" y1="2167.3" x2="274.0" y2="2167.3"/>
<line x1="250.0" y1="2050.2" x2="274.0" y2="2050.2"/>
<line x1="261.5" y1="1933.2" x2="274.0" y2="1933.2"/>
<line x1="250.0" y1="1816.1" x2="274.0" y2="1816.1"/>
<line x1="261.5" y1="1699.1" x2="274.0" y2="1699.1"/>
<line x1="250.0" y1="1582.0" x2="274.0" y2="1582.0"/>
<line x1="365.5" y1="2752.6" x2="365.5" y2="2764.6"/>
<line x1="549.1" y1="2752.6" x2="549.1" y2="2776.1"/>
<line x1="732.7" y1="2752.6" x2="732.7" y2="2764.6"/>
<line x1="916.3" y1="2752.6" x2="916.3" y2="2776.1"/>
<line x1="1099.9" y1="2752.6" x2="1099.9" y2="2764.6"/>
<line x1="1283.6" y1="2752.6" x2="1283.6" y2="2776.1"/>
<line x1="1467.2" y1="2752.6" x2="1467.2" y2="2764.6"/>
<line x1="1650.8" y1="2752.6" x2="1650.8" y2="2776.1"/>
<line x1="1834.4" y1="2752.6" x2="1834.4" y2="2764.6"/>
<line x1="2018.0" y1="2752.6" x2="2018.0" y2="2776.1"/>
</g>
<text class="t" x="0.0" y="2768.1" font-size="59" text-anchor="end" transform="translate(235.5,0) scale(0.93,1)">0</text>
<text class="t" x="0.0" y="2534.0" font-size="59" text-anchor="end" transform="translate(235.5,0) scale(0.93,1)">100</text>
<text class="t" x="0.0" y="2299.9" font-size="59" text-anchor="end" transform="translate(235.5,0) scale(0.93,1)">200</text>
<text class="t" x="0.0" y="2065.7" font-size="59" text-anchor="end" transform="translate(235.5,0) scale(0.93,1)">300</text>
<text class="t" x="0.0" y="1831.6" font-size="59" text-anchor="end" transform="translate(235.5,0) scale(0.93,1)">400</text>
<text class="t" x="0.0" y="1597.5" font-size="59" text-anchor="end" transform="translate(235.5,0) scale(0.93,1)">500</text>
<text class="t" x="0" y="2834.6" font-size="59" text-anchor="middle" transform="translate(549.1,0) scale(0.93,1)">320</text>
<text class="t" x="0" y="2834.6" font-size="59" text-anchor="middle" transform="translate(916.3,0) scale(0.93,1)">340</text>
<text class="t" x="0" y="2834.6" font-size="59" text-anchor="middle" transform="translate(1283.6,0) scale(0.93,1)">360</text>
<text class="t" x="0" y="2834.6" font-size="59" text-anchor="middle" transform="translate(1650.8,0) scale(0.93,1)">380</text>
<text class="t" x="0" y="2834.6" font-size="59" text-anchor="middle" transform="translate(2018.0,0) scale(0.93,1)">400</text>
<text class="t" font-size="70" transform="translate(69,673.5) rotate(-90) scale(0.95,1)">F</text>
<text class="t" font-size="70" transform="translate(80,2188.5) rotate(-90) scale(0.95,1)">F</text>
<text class="s" x="1006.5" y="1385.0" font-size="70" font-weight="bold">λ</text>
<text class="t" x="1058.8" y="1382.5" font-size="56">[</text>
<text class="t" x="1079.0" y="1382.5" font-size="67">nm</text>
<text class="t" x="1177.1" y="1382.5" font-size="66">]</text>
<text class="s" x="1012.0" y="2922.0" font-size="70" font-weight="bold">λ</text>
<text class="t" x="1064.0" y="2919.8" font-size="56">[</text>
<text class="t" x="1085.1" y="2919.8" font-size="67">nm</text>
<text class="t" x="1183.1" y="2919.8" font-size="66">]</text>
<text class="s" x="0" y="1501.6" font-size="86.5" transform="translate(995.8,0) scale(0.86,1)">(</text>
<text class="s" x="1022.3" y="1501.6" font-size="85.6" font-weight="bold">a</text>
<text class="s" x="0" y="1501.6" font-size="86.5" transform="translate(1063.8,0) scale(0.86,1)">)</text>
<text class="s" x="0" y="3031.8" font-size="86.5" transform="translate(990.8,0) scale(0.86,1)">(</text>
<text class="s" x="1017.2" y="3031.8" font-size="89.5" font-weight="bold">b</text>
<text class="s" x="0" y="3031.8" font-size="86.5" transform="translate(1068.7,0) scale(0.86,1)">)</text>
<rect x="1702.8" y="58.5" width="326.7" height="139.4" fill="#fff" stroke="#000" stroke-width="3.6"/>
<line x1="1725.6" y1="96.0" x2="1853.1" y2="96.0" stroke="#000" stroke-width="7.6" stroke-linecap="round"/>
<line x1="1725.6" y1="166.2" x2="1845.6" y2="166.2" stroke="#000" stroke-width="7.6" stroke-linecap="round" stroke-dasharray="25.4 19.375 2 19.375"/>
<text class="r" x="0" y="116.5" font-size="59" transform="translate(1868.6,0) scale(0.96,1)">HSA</text>
<text class="r" x="0" y="186.4" font-size="59" transform="translate(1868.9,0) scale(0.961,1)">oHSA</text>
<rect x="1684.0" y="1583.8" width="327.9" height="139.3" fill="#fff" stroke="#000" stroke-width="3.6"/>
<line x1="1706.8" y1="1621.7" x2="1834.2" y2="1621.7" stroke="#000" stroke-width="7.6" stroke-linecap="round"/>
<line x1="1706.8" y1="1691.5" x2="1826.8" y2="1691.5" stroke="#000" stroke-width="7.6" stroke-linecap="round" stroke-dasharray="25.4 19.375 2 19.375"/>
<text class="r" x="0" y="1641.2" font-size="59" transform="translate(1851.0,0) scale(0.96,1)">HSA</text>
<text class="r" x="0" y="1710.7" font-size="59" transform="translate(1850.1,0) scale(0.961,1)">oHSA</text>
</svg></body></html>
